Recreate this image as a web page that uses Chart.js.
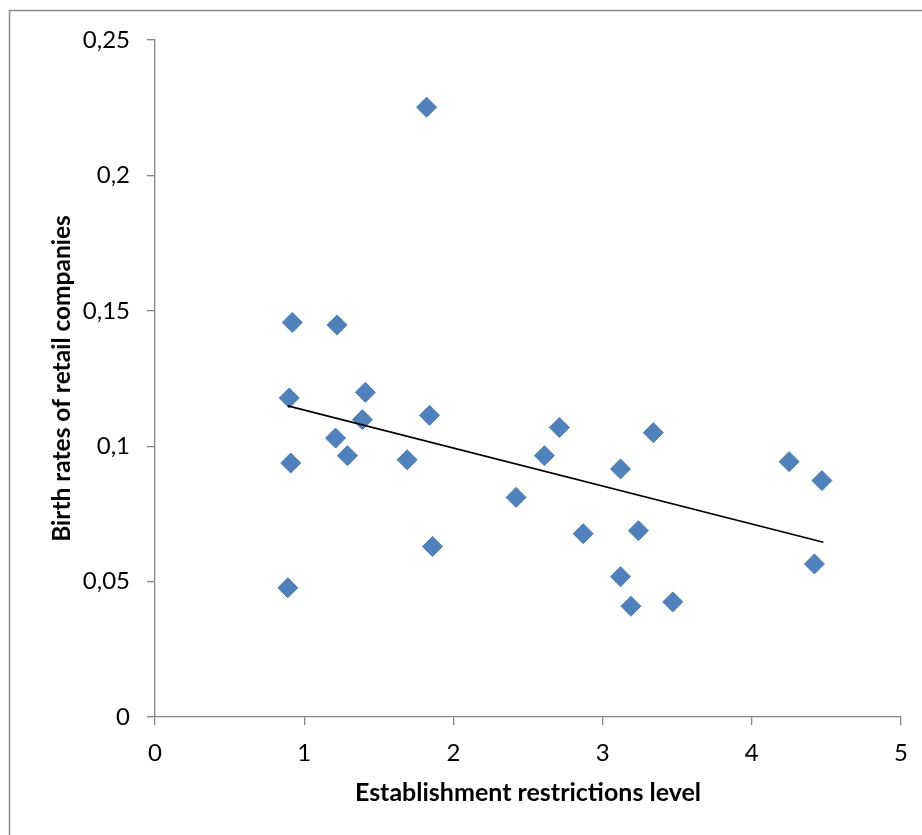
<!DOCTYPE html>
<html>
<head>
<meta charset="utf-8">
<script src="https://cdn.jsdelivr.net/npm/chart.js@4/dist/chart.umd.min.js"></script>
<style>
  html, body { margin: 0; padding: 0; background: #fff; }
  #wrap { width: 922px; height: 835px; position: relative; }
</style>
</head>
<body>
<div id="wrap"><canvas id="chart"></canvas></div>
<script>
// restriction level (x) vs birth rate of retail companies (y)
const restrictionLevel = [
  1.82, 0.92, 1.22, 0.90, 1.41, 1.39, 1.84, 1.21, 0.91, 1.29, 1.69, 2.71, 2.61,
  3.12, 2.42, 1.86, 2.87, 3.24, 0.89, 3.12, 3.19, 3.34, 4.25, 4.47, 4.42, 3.47
];
const birthRate = [
  0.2252, 0.1457, 0.1448, 0.1178, 0.1199, 0.1098, 0.1114, 0.1030, 0.0938, 0.0965, 0.0950, 0.1069, 0.0965,
  0.0916, 0.0811, 0.0630, 0.0677, 0.0688, 0.0477, 0.0518, 0.0409, 0.1050, 0.0943, 0.0873, 0.0565, 0.0425
];

// linear trendline ends
const trendX = [0.89, 4.48];
const trendY = [0.1149, 0.0645];

const xTickLabels = ["0", "1", "2", "3", "4", "5"];
const yTickLabels = ["0", "0,05", "0,1", "0,15", "0,2", "0,25"];

const xTitle = "Establishment restrictions level";
const yTitle = "Birth rates of retail companies";

const axisGrey = "#868686";
const fontFamily = "Lato, 'Open Sans', sans-serif";

const points = restrictionLevel.map((x, i) => ({ x: x, y: birthRate[i] }));
const trend = trendX.map((x, i) => ({ x: x, y: trendY[i] }));

// white background + outer frame like the office chart box
const frame = {
  id: "frame",
  beforeDraw(chart) {
    const ctx = chart.ctx;
    ctx.save();
    ctx.fillStyle = "#fff";
    ctx.fillRect(0, 0, chart.width, chart.height);
    ctx.strokeStyle = "#8c8c8c";
    ctx.lineWidth = 1.5;
    ctx.strokeRect(9.5, 10.5, chart.width + 20, chart.height + 20);
    ctx.restore();
  },
};

new Chart(document.getElementById("chart"), {
  type: "scatter",
  data: {
    datasets: [
      {
        label: "Trend",
        type: "line",
        data: trend,
        borderColor: "#000",
        borderWidth: 1.6,
        pointRadius: 0,
        fill: false,
        order: 0,
      },
      {
        label: "Birth rate",
        data: points,
        pointStyle: "rectRot",
        pointRadius: 10,
        pointHoverRadius: 10,
        backgroundColor: "#4F81BD",
        borderColor: "#4A7EBB",
        borderWidth: 1,
        order: 1,
      },
    ],
  },
  options: {
    responsive: true,
    maintainAspectRatio: false,
    animation: false,
    layout: { padding: { left: 0, top: 40, right: 21, bottom: 0 } },
    plugins: {
      legend: { display: false },
      tooltip: { enabled: false },
    },
    scales: {
      x: {
        type: "linear",
        min: 0,
        max: 5,
        afterFit: (scale) => { scale.height = 118; },
        ticks: {
          stepSize: 1,
          padding: 14,
          color: "#000",
          font: { family: fontFamily, size: 24 },
          callback: (v, i) => xTickLabels[i],
        },
        grid: {
          drawOnChartArea: false,
          drawTicks: true,
          tickLength: 8,
          color: axisGrey,
          lineWidth: 1.3,
        },
        border: { color: axisGrey, width: 1.3 },
        title: {
          display: true,
          text: xTitle,
          color: "#000",
          font: { family: fontFamily, size: 25, weight: "bold" },
          padding: { top: 0, bottom: 27 },
        },
      },
      y: {
        type: "linear",
        min: 0,
        max: 0.25,
        afterFit: (scale) => { scale.width = 155; },
        ticks: {
          stepSize: 0.05,
          padding: 17,
          color: "#000",
          font: { family: fontFamily, size: 24 },
          callback: (v, i) => yTickLabels[i],
        },
        grid: {
          drawOnChartArea: false,
          drawTicks: true,
          tickLength: 8,
          color: axisGrey,
          lineWidth: 1.3,
        },
        border: { color: axisGrey, width: 1.3 },
        title: {
          display: true,
          text: yTitle,
          color: "#000",
          font: { family: fontFamily, size: 24.5, weight: "bold" },
          padding: { top: 47, bottom: 0 },
        },
      },
    },
  },
  plugins: [frame],
});
</script>
</body>
</html>
